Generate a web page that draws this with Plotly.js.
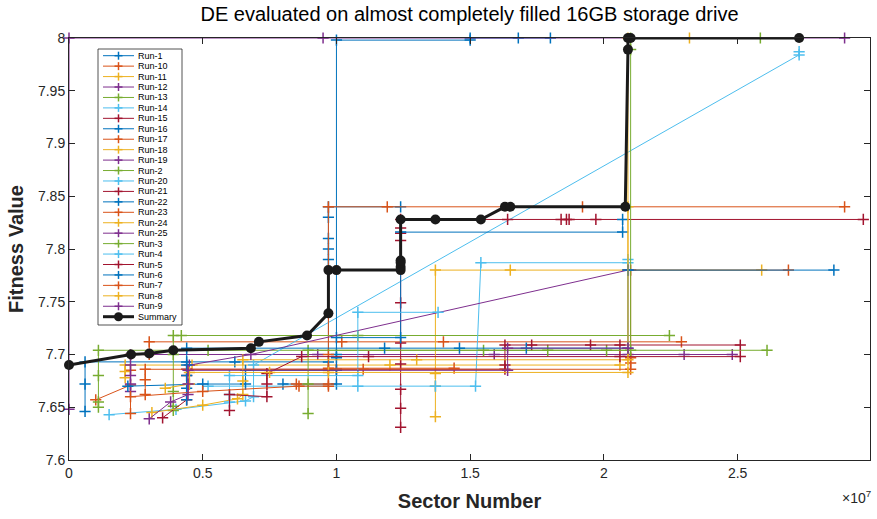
<!DOCTYPE html>
<html>
<head>
<meta charset="utf-8">
<script src="https://cdn.plot.ly/plotly-3.0.1.min.js"></script>
<style>
  html, body { margin: 0; padding: 0; background: #ffffff; }
  #chart { width: 877px; height: 519px; }
</style>
</head>
<body>
<div id="chart"></div>
<script>
// Legend order of the runs and their line colours
const runNames = ['Run-1','Run-10','Run-11','Run-12','Run-13','Run-14','Run-15','Run-16','Run-17','Run-18','Run-19','Run-2','Run-20','Run-21','Run-22','Run-23','Run-24','Run-25','Run-3','Run-4','Run-5','Run-6','Run-7','Run-8','Run-9'];
const runColors = ['#0072BD','#D95319','#EDB120','#7E2F8E','#77AC30','#4DBEEE','#A2142F','#0072BD','#D95319','#EDB120','#7E2F8E','#77AC30','#4DBEEE','#A2142F','#0072BD','#D95319','#EDB120','#7E2F8E','#77AC30','#4DBEEE','#A2142F','#0072BD','#D95319','#EDB120','#7E2F8E'];

// Sector numbers and fitness values visited by each run
const sectorRun1  = [0.06e7,0.06e7,0.06e7,0.44e7,0.62e7,0.97e7,0.97e7,0.97e7,0.97e7,0.97e7,0.97e7,1.24e7];
const fitnessRun1 = [7.646,7.672,7.693,7.693,7.693,7.693,7.790,7.800,7.810,7.830,7.840,7.840];
const sectorRun10  = [0.10e7,0.23e7,0.23e7,0.23e7,0.30e7,0.30e7,1.02e7,1.40e7,2.29e7];
const fitnessRun10 = [7.657,7.671,7.685,7.700,7.700,7.712,7.712,7.712,7.712];
const sectorRun11  = [0.21e7,0.21e7,0.21e7,0.46e7,1.20e7,2.06e7];
const fitnessRun11 = [7.678,7.684,7.690,7.690,7.690,7.690];
const sectorRun12  = [0.23e7,0.23e7,0.23e7,0.23e7,0.23e7,0.93e7,1.59e7,2.09e7,2.30e7,2.48e7];
const fitnessRun12 = [7.665,7.672,7.680,7.690,7.700,7.700,7.700,7.700,7.700,7.700];
const sectorRun13  = [0.11e7,0.11e7,0.11e7,0.11e7,0.52e7,1.79e7,2.01e7,2.61e7];
const fitnessRun13 = [7.650,7.655,7.680,7.704,7.704,7.704,7.704,7.704];
const sectorRun14  = [0.15e7,0.40e7,0.66e7,0.69e7,0.69e7,2.73e7,2.73e7];
const fitnessRun14 = [7.643,7.648,7.656,7.660,7.690,7.984,7.987];
const sectorRun15  = [1.24e7,1.24e7,1.24e7,1.24e7,1.24e7,1.24e7,1.24e7,1.24e7,1.24e7,1.24e7,1.64e7,1.84e7,1.86e7,1.87e7,1.97e7,2.97e7];
const fitnessRun15 = [7.631,7.649,7.667,7.691,7.711,7.749,7.808,7.815,7.820,7.828,7.828,7.828,7.828,7.828,7.828,7.828];
const sectorRun16  = [0.80e7,1.00e7,1.00e7,1.00e7,1.50e7,1.50e7,1.68e7,1.80e7];
const fitnessRun16 = [7.672,7.672,7.700,7.998,7.998,8.000,8.000,8.000];
const sectorRun17  = [0.85e7,0.97e7,0.97e7,0.97e7,0.97e7,1.19e7,1.92e7,2.90e7];
const fitnessRun17 = [7.672,7.672,7.685,7.700,7.840,7.840,7.840,7.840];
const sectorRun18  = [1.37e7,1.37e7,1.37e7,1.37e7,1.65e7,2.09e7,2.59e7];
const fitnessRun18 = [7.641,7.670,7.682,7.780,7.780,7.780,7.780];
const sectorRun19  = [0,0,0.95e7,2.90e7];
const fitnessRun19 = [7.648,8.000,8.000,8.000];
const sectorRun2  = [0.39e7,0.39e7,0.39e7,0.39e7,0.39e7,0.42e7,1.08e7,2.245e7];
const fitnessRun2 = [7.647,7.651,7.665,7.700,7.718,7.718,7.718,7.718];
const sectorRun20  = [0.52e7,1.08e7,1.37e7,1.52e7,1.54e7,2.09e7,2.09e7];
const fitnessRun20 = [7.670,7.670,7.670,7.670,7.787,7.787,7.790];
const sectorRun21  = [0.35e7,0.44e7,0.44e7,0.44e7,1.00e7,1.63e7,1.63e7,1.63e7,1.73e7,1.95e7,2.06e7,2.51e7];
const fitnessRun21 = [7.640,7.657,7.680,7.686,7.686,7.686,7.690,7.709,7.709,7.709,7.709,7.709];
const sectorRun22  = [0.22e7,0.50e7,0.66e7,0.66e7,1.00e7,1.00e7,1.00e7,1.24e7,1.24e7,2.07e7,2.07e7];
const fitnessRun22 = [7.670,7.672,7.672,7.685,7.685,7.697,7.716,7.716,7.816,7.816,7.828];
const sectorRun23  = [0.285e7,0.285e7,0.285e7,1.10e7,2.10e7,2.10e7,2.10e7,2.10e7,2.69e7];
const fitnessRun23 = [7.662,7.676,7.686,7.686,7.686,7.692,7.697,7.780,7.780];
const sectorRun24  = [0.31e7,0.50e7,0.63e7,0.65e7,0.65e7,0.65e7,1.30e7,2.09e7,2.09e7];
const fitnessRun24 = [7.645,7.652,7.658,7.662,7.675,7.695,7.695,7.695,7.840];
const sectorRun25  = [0.45e7,0.45e7,0.68e7,2.09e7];
const fitnessRun25 = [7.672,7.690,7.700,7.780];
const sectorRun3  = [0.894e7,0.894e7,0.894e7,1.55e7,2.10e7,2.10e7,2.10e7,2.585e7];
const fitnessRun3 = [7.644,7.672,7.704,7.704,7.704,7.989,8.000,8.000];
const sectorRun4  = [0.60e7,0.60e7,0.60e7,1.08e7,1.08e7,1.38e7];
const fitnessRun4 = [7.655,7.662,7.680,7.680,7.740,7.740];
const sectorRun5  = [0.60e7,0.60e7,0.74e7,0.74e7,0.74e7,0.87e7,1.12e7,2.06e7,2.51e7];
const fitnessRun5 = [7.647,7.662,7.660,7.672,7.682,7.698,7.698,7.698,7.698];
const sectorRun6  = [0.44e7,0.44e7,0.44e7,0.44e7,0.44e7,1.18e7,1.46e7,1.71e7,2.09e7,2.09e7,2.86e7];
const fitnessRun6 = [7.657,7.668,7.680,7.690,7.706,7.706,7.706,7.706,7.706,7.780,7.780];
const sectorRun7  = [0.23e7,0.23e7,0.50e7,0.86e7,0.97e7,0.97e7,1.44e7];
const fitnessRun7 = [7.644,7.660,7.665,7.670,7.670,7.687,7.687];
const sectorRun8  = [0.36e7,0.45e7,0.45e7,0.75e7,0.97e7,2.09e7,2.09e7,2.32e7];
const fitnessRun8 = [7.668,7.672,7.683,7.683,7.683,7.683,8.000,8.000];
const sectorRun9  = [0.30e7,0.38e7,0.445e7,0.445e7,0.445e7,1.64e7,1.64e7,2.09e7];
const fitnessRun9 = [7.639,7.655,7.662,7.672,7.685,7.685,7.706,7.706];

// Best fitness found so far across all runs
const summarySector  = [0,0.232e7,0.30e7,0.39e7,0.68e7,0.71e7,0.89e7,0.97e7,0.97e7,1.00e7,1.24e7,1.24e7,1.24e7,1.24e7,1.24e7,1.37e7,1.54e7,1.63e7,1.65e7,2.08e7,2.09e7,2.09e7,2.10e7,2.73e7];
const summaryFitness = [7.690,7.700,7.701,7.704,7.706,7.712,7.718,7.739,7.780,7.780,7.780,7.783,7.787,7.789,7.828,7.828,7.828,7.840,7.840,7.840,7.989,8.000,8.000,8.000];

// Axis ticks
const xTickVals = [0,0.5e7,1e7,1.5e7,2e7,2.5e7];
const xTickText = ['0','0.5','1','1.5','2','2.5'];
const yTickVals = [7.6,7.65,7.7,7.75,7.8,7.85,7.9,7.95,8];
const yTickText = ['7.6','7.65','7.7','7.75','7.8','7.85','7.9','7.95','8'];

const runSectors = [sectorRun1,sectorRun10,sectorRun11,sectorRun12,sectorRun13,sectorRun14,sectorRun15,sectorRun16,sectorRun17,sectorRun18,sectorRun19,sectorRun2,sectorRun20,sectorRun21,sectorRun22,sectorRun23,sectorRun24,sectorRun25,sectorRun3,sectorRun4,sectorRun5,sectorRun6,sectorRun7,sectorRun8,sectorRun9];
const runFitness = [fitnessRun1,fitnessRun10,fitnessRun11,fitnessRun12,fitnessRun13,fitnessRun14,fitnessRun15,fitnessRun16,fitnessRun17,fitnessRun18,fitnessRun19,fitnessRun2,fitnessRun20,fitnessRun21,fitnessRun22,fitnessRun23,fitnessRun24,fitnessRun25,fitnessRun3,fitnessRun4,fitnessRun5,fitnessRun6,fitnessRun7,fitnessRun8,fitnessRun9];

const FONT = 'Liberation Sans, Arial, Helvetica, sans-serif';
const AXIS_COLOR = '#262626';

const traces = runNames.map((name, i) => ({
  type: 'scatter',
  mode: 'lines+markers',
  name: name,
  x: runSectors[i],
  y: runFitness[i],
  line: { color: runColors[i], width: 1 },
  marker: { symbol: 'cross-thin', size: 8, line: { color: runColors[i], width: 1.5 } },
  cliponaxis: false
}));

traces.push({
  type: 'scatter',
  mode: 'lines+markers',
  name: 'Summary',
  x: summarySector,
  y: summaryFitness,
  line: { color: '#1a1a1a', width: 3 },
  marker: { symbol: 'circle', size: 10, color: '#1a1a1a' },
  cliponaxis: false
});

// Compact legend box drawn with shapes and annotations (paper coordinates)
const plotL = 69, plotR = 870, plotT = 38, plotB = 460;
const px = v => (v - plotL) / (plotR - plotL);
const py = v => (plotB - v) / (plotB - plotT);
const shapes = [];
const annotations = [];

shapes.push({
  type: 'rect', xref: 'paper', yref: 'paper', layer: 'above',
  x0: px(98), x1: px(182), y0: py(325), y1: py(49),
  fillcolor: '#ffffff', line: { color: AXIS_COLOR, width: 0.8 }
});

const legendNames = runNames.concat(['Summary']);
const legendColors = runColors.concat(['#1a1a1a']);
legendNames.forEach((name, i) => {
  const yPix = 55.7 + i * 10.44;
  const isSummary = name === 'Summary';
  const col = legendColors[i];
  shapes.push({
    type: 'line', xref: 'paper', yref: 'paper', layer: 'above',
    x0: px(103), x1: px(134), y0: py(yPix), y1: py(yPix),
    line: { color: col, width: isSummary ? 3 : 1 }
  });
  if (isSummary) {
    shapes.push({
      type: 'circle', xref: 'paper', yref: 'paper', layer: 'above',
      x0: px(114), x1: px(123), y0: py(yPix + 4.5), y1: py(yPix - 4.5),
      fillcolor: col, line: { color: col, width: 0 }
    });
  } else {
    shapes.push({
      type: 'line', xref: 'paper', yref: 'paper', layer: 'above',
      x0: px(114.5), x1: px(122.5), y0: py(yPix), y1: py(yPix),
      line: { color: col, width: 1.5 }
    });
    shapes.push({
      type: 'line', xref: 'paper', yref: 'paper', layer: 'above',
      x0: px(118.5), x1: px(118.5), y0: py(yPix + 4), y1: py(yPix - 4),
      line: { color: col, width: 1.5 }
    });
  }
  annotations.push({
    xref: 'paper', yref: 'paper', x: px(136), y: py(yPix),
    xanchor: 'left', yanchor: 'middle', showarrow: false,
    text: name, font: { family: FONT, size: 9, color: '#000000' }
  });
});

// Exponent label for the sector axis
annotations.push({
  xref: 'paper', yref: 'paper', x: px(873), y: py(497),
  xanchor: 'right', yanchor: 'middle', showarrow: false,
  text: '×10<sup>7</sup>', font: { family: FONT, size: 14, color: AXIS_COLOR }
});

const layout = {
  width: 877,
  height: 519,
  margin: { l: 69, r: 7, t: 38, b: 59, pad: 0 },
  paper_bgcolor: '#ffffff',
  plot_bgcolor: '#ffffff',
  showlegend: false,
  font: { family: FONT, color: AXIS_COLOR },
  title: {
    text: 'DE evaluated on almost completely filled 16GB storage drive',
    font: { family: FONT, size: 20, color: '#000000' },
    x: 0.5, xref: 'paper', xanchor: 'center',
    y: 1 - 14 / 519, yanchor: 'middle'
  },
  xaxis: {
    range: [0, 2.995e7],
    tickvals: xTickVals, ticktext: xTickText,
    ticks: 'inside', ticklen: 6, tickwidth: 1, tickcolor: AXIS_COLOR,
    showline: true, linecolor: AXIS_COLOR, linewidth: 1, mirror: 'allticks',
    showgrid: false, zeroline: false,
    tickfont: { family: FONT, size: 14, color: AXIS_COLOR },
    title: { text: '<b>Sector Number</b>', font: { family: FONT, size: 20, color: AXIS_COLOR }, standoff: 14 }
  },
  yaxis: {
    range: [7.6, 8],
    tickvals: yTickVals, ticktext: yTickText,
    ticks: 'inside', ticklen: 6, tickwidth: 1, tickcolor: AXIS_COLOR,
    showline: true, linecolor: AXIS_COLOR, linewidth: 1, mirror: 'allticks',
    showgrid: false, zeroline: false,
    tickfont: { family: FONT, size: 14, color: AXIS_COLOR },
    title: { text: '<b>Fitness Value</b>', font: { family: FONT, size: 20, color: AXIS_COLOR }, standoff: 8 }
  },
  shapes: shapes,
  annotations: annotations
};

Plotly.newPlot('chart', traces, layout, { staticPlot: true, displayModeBar: false });
</script>
</body>
</html>
